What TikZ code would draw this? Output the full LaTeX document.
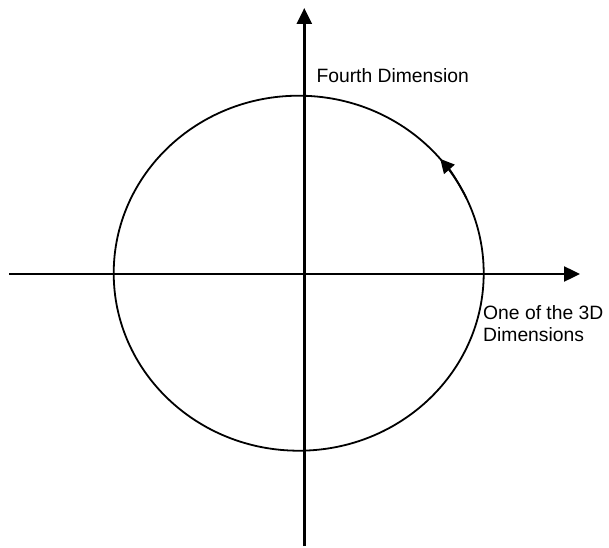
\documentclass[tikz,border=0pt]{standalone}
\usepackage{fontspec}
\setmainfont{Liberation Sans}
\usetikzlibrary{arrows.meta}
\begin{document}
\begin{tikzpicture}[x=1pt,y=1pt,
  axisline/.style={line width=2.4pt,-{Triangle[length=16pt,width=15pt]}},
  orbit/.style={line width=1.8pt},
  lbl/.style={inner sep=0pt,font=\fontsize{19.3}{21.8}\selectfont}]
\useasboundingbox (0,0) rectangle (609,547);
\coordinate (xl) at (9,273);
\coordinate (xr) at (580,273);
\coordinate (yb) at (304.3,1);
\coordinate (yt) at (304.3,539);
\coordinate (c) at (298.7,273.8);
\draw[axisline] (xl) -- (xr);
\draw[axisline] (yb) -- (yt);
\draw[orbit] (c) ellipse [x radius=185, y radius=177.5];
\draw[orbit,-{Triangle[length=14pt,width=14pt]}] ([shift={(25:185 and 177.5)}]c) arc[start angle=25,end angle=40.1,x radius=185,y radius=177.5];
\node[lbl,anchor=base west] (fourth) at (316.3,464.7) {Fourth Dimension};
\node[lbl,anchor=base west,align=left] (three) at (483,205.3) {One of the 3D\\Dimensions};
\end{tikzpicture}
\end{document}
